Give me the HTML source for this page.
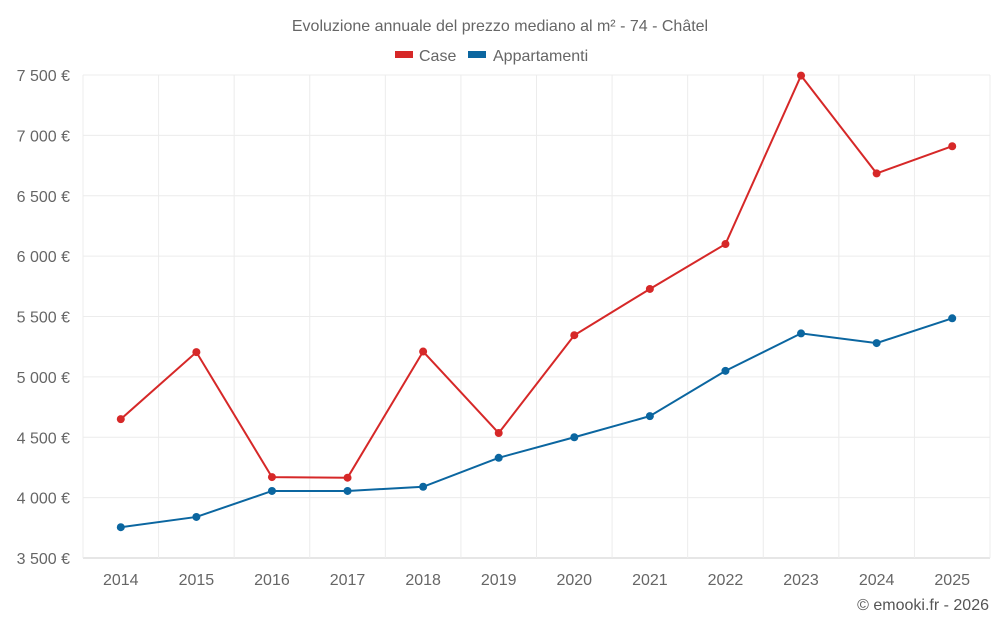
<!DOCTYPE html>
<html><head><meta charset="utf-8"><style>
body{margin:0;background:#fff;font-family:"Liberation Sans",sans-serif;}
svg text{font-family:"Liberation Sans",sans-serif;}
</style></head><body>
<svg id="c" width="1000" height="625">
<text x="500" y="31" text-anchor="middle" font-size="16" fill="#666">Evoluzione annuale del prezzo mediano al m² - 74 - Châtel</text>
<g>
<g><rect x="395" y="51" width="18" height="7" fill="#d62828"/><text x="419" y="61" font-size="16" fill="#666">Case</text></g>
<g><rect x="468" y="51" width="18" height="7" fill="#0b66a0"/><text x="493" y="61" font-size="16" fill="#666">Appartamenti</text></g>
</g>
<g id="grid"></g><g id="axes"></g><g id="series"></g>
<text x="989" y="610" text-anchor="end" font-size="16" fill="#555">© emooki.fr - 2026</text>
</svg>
<script>
const years=[2014,2015,2016,2017,2018,2019,2020,2021,2022,2023,2024,2025];
const caseVals=[4650,5205,4170,4165,5210,4535,5345,5728,6100,7495,6685,6910];
const apptVals=[3755,3840,4055,4055,4090,4330,4500,4675,5050,5360,5280,5485];
const yTicks=[3500,4000,4500,5000,5500,6000,6500,7000,7500];
const L=83,R=990,T=75,B=558,ymin=3500,ymax=7500;
const step=(R-L)/years.length;
const x=i=>L+step*(i+0.5);
const y=v=>B-(v-ymin)/(ymax-ymin)*(B-T);
const NS="http://www.w3.org/2000/svg";
function mk(t,a,p){const e=document.createElementNS(NS,t);for(const k in a)e.setAttribute(k,a[k]);p.appendChild(e);return e;}
const g=document.getElementById('grid'),ax=document.getElementById('axes'),s=document.getElementById('series');
yTicks.forEach(v=>{
 const l=mk('line',{x1:L,x2:R,y1:y(v),y2:y(v),stroke:v===ymin?'#ccc':'#ececec'},g);
 
 
 const t=mk('text',{x:L-13,y:y(v)+6,'text-anchor':'end','font-size':16,fill:'#666'},ax);
 t.textContent=String(v).replace(/\B(?=(\d{3})+$)/,' ')+' €';
 
 
});
for(let i=0;i<=years.length;i++){
 const l=mk('line',{x1:L+step*i,x2:L+step*i,y1:T,y2:B+(i===0?0:0),stroke:'#ececec'},g);
 
 
}
years.forEach((yr,i)=>{
 const t=mk('text',{x:x(i),y:585,'text-anchor':'middle','font-size':16,fill:'#666'},ax);
 t.textContent=yr;
 
 
});
function series(vals,color,name){
 const p=mk('polyline',{points:vals.map((v,i)=>x(i)+','+y(v)).join(' '),fill:'none',stroke:color,'stroke-width':2},s);
 
 
 vals.forEach((v,i)=>{
  const c=mk('circle',{cx:x(i),cy:y(v),r:4,fill:color},s);
  
  
 });
}
series(apptVals,'#0b66a0','appartamenti');
series(caseVals,'#d62828','case');
</script>
</body></html>
